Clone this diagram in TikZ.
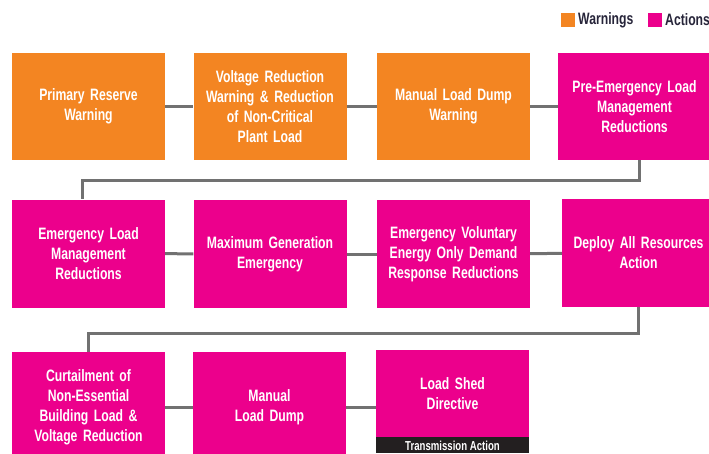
\documentclass[tikz,border=0pt]{standalone}
\usepackage{fontspec}
\usepackage{tikz}
\usetikzlibrary{positioning}

\newfontfamily\boxfont{Liberation Sans}[FakeStretch=0.74]

\definecolor{warnorange}{HTML}{F38522}
\definecolor{actmagenta}{HTML}{EC008C}
\definecolor{linkgray}{HTML}{717171}
\definecolor{legendink}{HTML}{27253A}
\definecolor{bandblack}{HTML}{231F20}

\tikzset{
    stage/.style={rectangle, inner sep=0pt, minimum width=153pt, minimum height=107pt,
                  text width=150pt, align=center, text=white,
                  font=\boxfont\bfseries\fontsize{16.5}{20}\selectfont},
    warn/.style={stage, fill=warnorange},
    act/.style={stage, fill=actmagenta},
    link/.style={line width=3pt, linkgray},
    legsq/.style={rectangle, inner sep=0pt, minimum size=14pt},
    legtxt/.style={anchor=west, inner sep=0pt, text=legendink,
                   font=\boxfont\bfseries\fontsize{16.5}{20}\selectfont},
    bandbox/.style={rectangle, inner sep=0pt, minimum width=153pt, minimum height=16pt,
                    fill=bandblack, text=white,
                    font=\boxfont\bfseries\fontsize{13}{14}\selectfont}
}

\begin{document}
\begin{tikzpicture}[x=1pt, y=-1pt]

            \useasboundingbox (0,0) rectangle (709,453);

            % legend
            \path   (568,20) node (wsq) [legsq, fill=warnorange] {}
                    (578,20) node (wtxt) [legtxt] {Warnings}
                    (655,20) node (asq) [legsq, fill=actmagenta] {}
                    (665,20) node (atxt) [legtxt] {Actions};

            % first row
            \path   (88.5,106.5) node (prim) [warn] {Primary Reserve\\Warning}
                    (270,106.5) node (volt) [warn] {Voltage Reduction\\Warning \& Reduction\\of Non-Critical\\Plant Load}
                    (453.5,106.5) node (mdw) [warn] {Manual Load Dump\\Warning}
                    (634.5,106.5) node (pre) [act] {Pre-Emergency Load\\Management\\Reductions};

            % second row
            \path   (88.5,253.5) node (elm) [act, minimum height=108pt] {Emergency Load\\Management\\Reductions}
                    (270,254) node (maxg) [act, minimum height=108pt] {Maximum Generation\\Emergency}
                    (453.5,254) node (evol) [act, minimum height=108pt] {Emergency Voluntary\\Energy Only Demand\\Response Reductions}
                    (638.5,253) node (dep) [act, minimum height=108pt] {Deploy All Resources\\Action};

            % third row
            \path   (88.5,407) node (curt) [act, minimum height=110pt] {Curtailment of\\Non-Essential\\Building Load \&\\Voltage Reduction}
                    (269.5,407) node (dump) [act, minimum height=110pt] {Manual\\Load Dump}
                    (452.5,393.5) node (shed) [act, minimum height=87pt] {Load Shed\\Directive};
            \node (band) [bandbox, below=0pt of shed] {Transmission Action};

            \coordinate (bend1) at (0,180);
            \coordinate (bend2) at (0,333);

            \draw[link] (prim) -- (volt);
            \draw[link] (volt) -- (mdw);
            \draw[link] (mdw) -- (pre);
            \draw[link] ([xshift=4.5pt]pre.south) -- ([xshift=4.5pt]pre.south |- bend1) -| ([xshift=-6.5pt]elm.north);
            \draw[link] (elm) -- (maxg);
            \draw[link] (maxg) -- (evol);
            \draw[link] (evol) -- (dep);
            \draw[link] (dep.south) -- (dep.south |- bend2) -| (curt.north);
            \draw[link] (curt) -- (dump);
            \draw[link] (dump.east) -- (dump.east -| shed.west);

        \end{tikzpicture}
\end{document}
